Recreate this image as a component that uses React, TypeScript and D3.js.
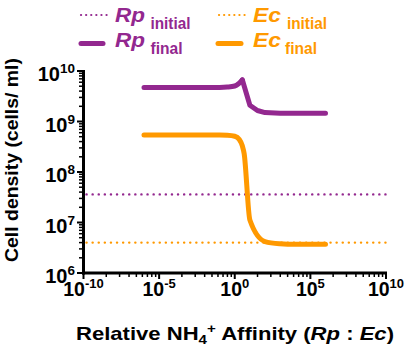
import React from "react";
import * as d3 from "d3";

const W = 409;
const H = 347;

// Relative affinity (Rp:Ec), final densities (cells/ml)
const rpFinalX = [1e-6, 1e-5, 1e-4, 1e-3, 1e-2, 1e-1, 0.316, 1, 1.78, 3.16, 10, 31.6, 100, 1000, 1e4, 1e5, 1e6];
const rpFinalY = [4.7e9, 4.7e9, 4.7e9, 4.7e9, 4.7e9, 4.72e9, 4.8e9, 5.05e9, 5.6e9, 6.7e9, 2.1e9, 1.65e9, 1.5e9, 1.46e9, 1.45e9, 1.45e9, 1.45e9];
const ecFinalX = [1e-6, 1e-5, 1e-4, 1e-3, 1e-2, 1e-1, 0.316, 1, 2, 3.16, 4.2, 10, 100, 1000, 1e4, 1e5, 1e6];
const ecFinalY = [5.4e8, 5.4e8, 5.4e8, 5.4e8, 5.4e8, 5.38e8, 5.33e8, 5.1e8, 4.4e8, 3.3e8, 2.3e8, 1.12e7, 4.2e6, 3.8e6, 3.7e6, 3.7e6, 3.7e6];
const rpInitial = 3.6e7;
const ecInitial = 4.0e6;

const xDomain = [1e-10, 1e10];
const yDomain = [1e6, 1e10];
const xMajor = [-10, -5, 0, 5, 10];
const yMajor = [6, 7, 8, 9, 10];

const PURPLE = "#93288F";
const ORANGE = "#FF9900";
const FONT = "'Liberation Sans', Arial, Helvetica, sans-serif";

export default function App() {
  const x = d3.scaleLog().domain(xDomain).range([83.5, 386]);
  const y = d3.scaleLog().domain(yDomain).range([273, 71]);

  const line = d3
    .line<[number, number]>()
    .x((d) => x(d[0]))
    .y((d) => y(d[1]))
    .curve(d3.curveMonotoneX);
  const lineLin = d3
    .line<[number, number]>()
    .x((d) => x(d[0]))
    .y((d) => y(d[1]));

  const rpData = rpFinalX.map((v, i) => [v, rpFinalY[i]] as [number, number]);
  const ecData = ecFinalX.map((v, i) => [v, ecFinalY[i]] as [number, number]);

  const peakIdx = 9;
  const rpA = rpData.slice(0, peakIdx + 1);
  const rpB = rpData.slice(peakIdx);

  const yMinor: number[] = [];
  for (let e = 6; e < 10; e++) for (let k = 2; k <= 9; k++) yMinor.push(k * Math.pow(10, e));
  const xMinor: number[] = [];
  for (let m = -10; m < 10; m += 5)
    for (let k = 2; k <= 9; k++) xMinor.push(Math.pow(10, m + 5 * Math.log10(k)));

  const x0 = x(xDomain[0]);
  const x1 = x(xDomain[1]);
  const yb = y(yDomain[0]);
  const yt = y(yDomain[1]);

  return (
    <svg width={W} height={H} style={{ position: "absolute", left: 0, top: 0 }} fontFamily={FONT}>
      <rect width={W} height={H} fill="#fff" />
      {/* legend */}
      <g fontWeight="bold">
        <line x1={81} x2={107} y1={15} y2={15} stroke={PURPLE} strokeWidth={2.2} strokeDasharray="0.1,5" strokeLinecap="round" />
        <text x={115} y={22} fill={PURPLE} fontSize={21} fontStyle="italic" textLength={30} lengthAdjust="spacingAndGlyphs">Rp</text>
        <text x={150.5} y={28.5} fill={PURPLE} fontSize={16} textLength={40} lengthAdjust="spacingAndGlyphs">initial</text>
        <line x1={81} x2={103} y1={43.5} y2={43.5} stroke={PURPLE} strokeWidth={5} strokeLinecap="round" />
        <text x={115} y={47} fill={PURPLE} fontSize={21} fontStyle="italic" textLength={30} lengthAdjust="spacingAndGlyphs">Rp</text>
        <text x={150.5} y={54} fill={PURPLE} fontSize={16} textLength={32} lengthAdjust="spacingAndGlyphs">final</text>

        <line x1={219} x2={245} y1={15} y2={15} stroke={ORANGE} strokeWidth={2.2} strokeDasharray="0.1,5" strokeLinecap="round" />
        <text x={253} y={22} fill={ORANGE} fontSize={21} fontStyle="italic" textLength={28} lengthAdjust="spacingAndGlyphs">Ec</text>
        <text x={287} y={28.5} fill={ORANGE} fontSize={16} textLength={40} lengthAdjust="spacingAndGlyphs">initial</text>
        <line x1={218} x2={241} y1={43.5} y2={43.5} stroke={ORANGE} strokeWidth={5} strokeLinecap="round" />
        <text x={253} y={47} fill={ORANGE} fontSize={21} fontStyle="italic" textLength={28} lengthAdjust="spacingAndGlyphs">Ec</text>
        <text x={285} y={54} fill={ORANGE} fontSize={16} textLength={32} lengthAdjust="spacingAndGlyphs">final</text>
      </g>

      {/* initial dotted lines */}
      <line x1={x0 + 3} x2={x1} y1={y(rpInitial)} y2={y(rpInitial)} stroke={PURPLE} strokeWidth={2.4} strokeDasharray="0.1,6" strokeLinecap="round" />
      <line x1={x0 + 3} x2={x1} y1={y(ecInitial)} y2={y(ecInitial)} stroke={ORANGE} strokeWidth={2.4} strokeDasharray="0.1,6" strokeLinecap="round" />

      {/* final lines */}
      <path d={line(rpA) || ""} fill="none" stroke={PURPLE} strokeWidth={5} strokeLinecap="round" strokeLinejoin="round" />
      <path d={lineLin(rpB) || ""} fill="none" stroke={PURPLE} strokeWidth={5} strokeLinecap="round" strokeLinejoin="round" />
      <path d={line(ecData) || ""} fill="none" stroke={ORANGE} strokeWidth={5} strokeLinecap="round" strokeLinejoin="round" />

      {/* y axis */}
      <line x1={x0} x2={x0} y1={yt - 1} y2={yb + 1.5} stroke="#000" strokeWidth={3} />
      {yMajor.map((e) => (
        <line key={"ym" + e} x1={x0 - 6.5} x2={x0} y1={y(Math.pow(10, e))} y2={y(Math.pow(10, e))} stroke="#000" strokeWidth={2} />
      ))}
      {yMinor.map((v, i) => (
        <line key={"yn" + i} x1={x0 - 4.5} x2={x0} y1={y(v)} y2={y(v)} stroke="#000" strokeWidth={1.5} />
      ))}
      {yMajor.map((e) => (
        <text key={"yl" + e} x={75} y={y(Math.pow(10, e)) + 10} textAnchor="end" fontWeight="bold" fontSize={20}>
          10<tspan fontSize={13.5} dy={-8}>{e}</tspan>
        </text>
      ))}

      {/* x axis */}
      <line x1={x0 - 1.5} x2={x1 + 1} y1={yb} y2={yb} stroke="#000" strokeWidth={3} />
      {xMajor.map((e) => (
        <line key={"xm" + e} x1={x(Math.pow(10, e))} x2={x(Math.pow(10, e))} y1={yb} y2={yb + 6} stroke="#000" strokeWidth={2} />
      ))}
      {xMinor.map((v, i) => (
        <line key={"xn" + i} x1={x(v)} x2={x(v)} y1={yb} y2={yb + 4} stroke="#000" strokeWidth={1.5} />
      ))}
      {xMajor.map((e) => (
        <text key={"xl" + e} x={x(Math.pow(10, e))} y={296} textAnchor="middle" fontWeight="bold" fontSize={19.5}>
          10<tspan fontSize={13} dy={-8}>{e}</tspan>
        </text>
      ))}

      {/* axis titles */}
      <text x={76} y={340} fontWeight="bold" fontSize={19} textLength={318} lengthAdjust="spacingAndGlyphs">
        Relative NH<tspan fontSize={13} dy={4}>4</tspan>
        <tspan fontSize={13} dy={-11}>+</tspan>
        <tspan dy={7}> Affinity  (</tspan>
        <tspan fontStyle="italic">Rp</tspan>
        <tspan> : </tspan>
        <tspan fontStyle="italic">Ec</tspan>
        <tspan>)</tspan>
      </text>
      <text transform="translate(18,160) rotate(-90)" textAnchor="middle" fontWeight="bold" fontSize={18.5} textLength={204} lengthAdjust="spacingAndGlyphs">
        Cell density (cells/ ml)
      </text>
    </svg>
  );
}
